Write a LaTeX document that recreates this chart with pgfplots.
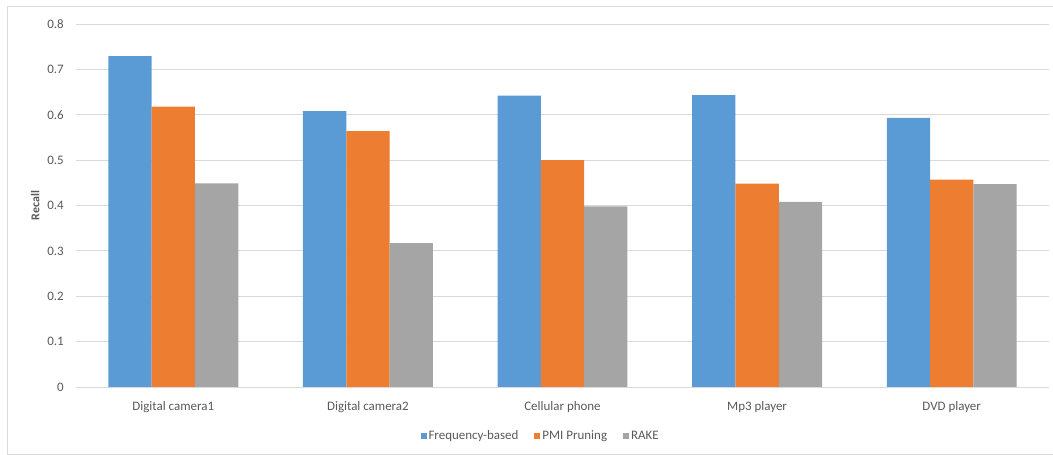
\documentclass[border=0pt]{standalone}
\usepackage{pgfplots}
\pgfplotsset{compat=1.18}
\usepackage{fontspec}
\setmainfont{Carlito}

\definecolor{serA}{HTML}{5B9BD5}
\definecolor{serB}{HTML}{ED7D31}
\definecolor{serC}{HTML}{A5A5A5}
\definecolor{gridc}{HTML}{D9D9D9}
\definecolor{txt}{HTML}{595959}
\definecolor{frame}{HTML}{D9D9D9}

\begin{document}
\begin{tikzpicture}[x=1bp,y=1bp]
\useasboundingbox (0,0) rectangle (1053,455);
% outer chart frame
\draw[frame, line width=0.9bp] (1053,449) -- (7,449) -- (7,1) -- (1053,1);
\begin{axis}[
  at={(76bp,68bp)}, anchor=south west,
  scale only axis, width=973bp, height=363bp,
  ybar=0pt, bar width=43.3bp,
  xmin=-0.5, xmax=4.5, ymin=0, ymax=0.8,
  xtick=data,
  xticklabels={Digital camera1, Digital camera2, Cellular phone, Mp3 player, DVD player},
  ytick={0,0.1,...,0.8},
  /pgf/number format/fixed,
  /pgf/number format/precision=1,
  /pgf/number format/assume math mode=true,
  yticklabel style={anchor=east, inner sep=0pt, xshift=-12bp, font=\fontsize{13}{14}\selectfont, text=txt},
  xticklabel style={anchor=base, inner sep=0pt, yshift=-24bp, font=\fontsize{13}{14}\selectfont, text=txt},
  major tick length=0pt,
  axis line style={draw=none},
  ymajorgrids, grid style={gridc, line width=0.9bp},
  ylabel={Recall},
  ylabel style={at={(axis description cs:-0.042,0.5)}, anchor=center, font=\fontsize{12}{13}\selectfont\bfseries, text=txt},
  legend columns=3,
  legend style={at={(axis description cs:0.4775,-0.135)}, anchor=center, draw=none, fill=none,
    font=\fontsize{13}{14}\selectfont, text=txt,
    nodes={inner sep=2bp},
    /tikz/every even column/.append style={column sep=14bp}},
  legend image code/.code={\fill[#1,draw=none] (0bp,-3bp) rectangle (6bp,3bp);},
]
\addplot[fill=serA, draw=none] coordinates {(0,0.729) (1,0.608) (2,0.642) (3,0.643) (4,0.593)};
\addplot[fill=serB, draw=none] coordinates {(0,0.618) (1,0.564) (2,0.500) (3,0.448) (4,0.457)};
\addplot[fill=serC, draw=none] coordinates {(0,0.449) (1,0.317) (2,0.398) (3,0.408) (4,0.447)};
\draw[gridc, line width=0.9bp] (axis cs:-0.5,0) -- (axis cs:4.5,0);
\legend{Frequency-based, PMI Pruning, RAKE}
\end{axis}
\end{tikzpicture}
\end{document}
